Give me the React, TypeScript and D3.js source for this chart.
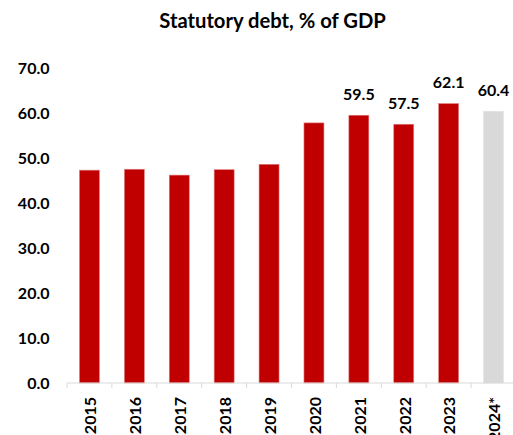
import React from "react";
import * as d3 from "d3";

const years = ["2015", "2016", "2017", "2018", "2019", "2020", "2021", "2022", "2023", "2024*"];
const debt = [47.3, 47.5, 46.2, 47.4, 48.6, 57.8, 59.5, 57.5, 62.1, 60.4];
const labelled = [false, false, false, false, false, false, true, true, true, true];
const forecast = [false, false, false, false, false, false, false, false, false, true];
const yTicks = [0, 10, 20, 30, 40, 50, 60, 70];
const title = "Statutory debt, % of GDP";

const W = 513;
const H = 435;
const FONT = "Lato, 'Open Sans', sans-serif";

export default function App() {
  const x0 = 67;
  const step = 44.9;
  const x = d3
    .scaleBand<string>()
    .domain(years)
    .range([x0, x0 + step * years.length])
    .paddingInner(0.555)
    .paddingOuter(0.2775);
  const y = d3.scaleLinear().domain([0, 70]).range([383, 68]);
  const base = y(0);

  return (
    <div style={{ position: "absolute", left: 0, top: 0 }}>
      <svg width={W} height={H} style={{ display: "block", background: "#fff" }} fontFamily={FONT}>
        <text x={272.5} y={28} textAnchor="middle" fontSize={20.2} fontWeight={700} fill="#000">
          {title}
        </text>
        {yTicks.map((t) => (
          <text
            key={t}
            x={49.5}
            y={y(t)}
            dy="0.36em"
            textAnchor="end"
            fontSize={16}
            fontWeight={700}
            fill="#000"
          >
            {d3.format(".1f")(t)}
          </text>
        ))}
        {years.map((yr, i) => {
          const bx = x(yr)!;
          const by = y(debt[i]);
          return (
            <g key={yr}>
              <rect
                x={bx}
                y={by}
                width={x.bandwidth()}
                height={base - by}
                fill={forecast[i] ? "#D9D9D9" : "#C00000"}
                stroke={forecast[i] ? "#E4E4E4" : "#E08080"}
                strokeWidth={0.6}
              />
              {labelled[i] && (
                <text
                  x={bx + x.bandwidth() / 2}
                  y={by - 15.5}
                  textAnchor="middle"
                  fontSize={16}
                  fontWeight={700}
                  fill="#000"
                >
                  {d3.format(".1f")(debt[i])}
                </text>
              )}
            </g>
          );
        })}
        <line x1={x0} x2={W} y1={base} y2={base} stroke="#D9D9D9" strokeWidth={1.2} />
        {d3.range(years.length + 1).map((i) => (
          <line
            key={i}
            x1={x0 + step * i}
            x2={x0 + step * i}
            y1={base}
            y2={base + 5}
            stroke="#D9D9D9"
            strokeWidth={1}
          />
        ))}
        {years.map((yr) => (
          <text
            key={yr}
            transform={`translate(${x(yr)! + x.bandwidth() / 2 + 1},397) rotate(-90)`}
            dy="0.36em"
            textAnchor="end"
            fontSize={16}
            fontWeight={700}
            fill="#000"
          >
            {yr}
          </text>
        ))}
      </svg>
    </div>
  );
}
